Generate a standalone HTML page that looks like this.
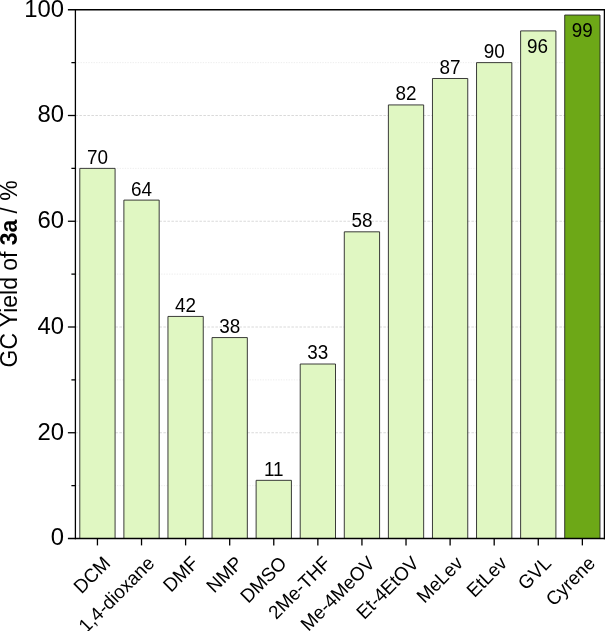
<!DOCTYPE html>
<html><head><meta charset="utf-8"><title>GC Yield chart</title>
<style>
html,body{margin:0;padding:0;background:#fff;}
body{width:605px;height:631px;overflow:hidden;}
svg{display:block;font-family:"Liberation Sans",Arial,sans-serif;}
.tl{font-size:23.85px;fill:#000;}
.vl{font-size:18.9px;fill:#000;}
.xl{font-size:18.67px;fill:#000;}
</style></head><body>
<svg width="605" height="631" viewBox="0 0 605 631">
<rect width="605" height="631" fill="#fff"/>

<line x1="75.4" x2="604.4" y1="485.62" y2="485.62" stroke="#eaeaea" stroke-width="0.85" stroke-dasharray="1.3 1.3"/>
<line x1="75.4" x2="604.4" y1="432.75" y2="432.75" stroke="#d2d2d2" stroke-width="0.85" stroke-dasharray="2.5 1.5"/>
<line x1="75.4" x2="604.4" y1="379.88" y2="379.88" stroke="#eaeaea" stroke-width="0.85" stroke-dasharray="1.3 1.3"/>
<line x1="75.4" x2="604.4" y1="327.00" y2="327.00" stroke="#d2d2d2" stroke-width="0.85" stroke-dasharray="2.5 1.5"/>
<line x1="75.4" x2="604.4" y1="274.12" y2="274.12" stroke="#eaeaea" stroke-width="0.85" stroke-dasharray="1.3 1.3"/>
<line x1="75.4" x2="604.4" y1="221.25" y2="221.25" stroke="#d2d2d2" stroke-width="0.85" stroke-dasharray="2.5 1.5"/>
<line x1="75.4" x2="604.4" y1="168.38" y2="168.38" stroke="#eaeaea" stroke-width="0.85" stroke-dasharray="1.3 1.3"/>
<line x1="75.4" x2="604.4" y1="115.50" y2="115.50" stroke="#d2d2d2" stroke-width="0.85" stroke-dasharray="2.5 1.5"/>
<line x1="75.4" x2="604.4" y1="62.62" y2="62.62" stroke="#eaeaea" stroke-width="0.85" stroke-dasharray="1.3 1.3"/>
<path d="M79.79 538.5V168.38H115.09V538.5" fill="#e0f7c2" stroke="#262626" stroke-width="0.9"/>
<text class="vl" transform="translate(97.44,163.82) scale(1,1.03)" text-anchor="middle">70</text>
<path d="M123.88 538.5V200.10H159.18V538.5" fill="#e0f7c2" stroke="#262626" stroke-width="0.9"/>
<text class="vl" transform="translate(141.53,195.55) scale(1,1.03)" text-anchor="middle">64</text>
<path d="M167.96 538.5V316.43H203.26V538.5" fill="#e0f7c2" stroke="#262626" stroke-width="0.9"/>
<text class="vl" transform="translate(185.61,311.88) scale(1,1.03)" text-anchor="middle">42</text>
<path d="M212.04 538.5V337.57H247.34V538.5" fill="#e0f7c2" stroke="#262626" stroke-width="0.9"/>
<text class="vl" transform="translate(229.69,333.02) scale(1,1.03)" text-anchor="middle">38</text>
<path d="M256.12 538.5V480.34H291.42V538.5" fill="#e0f7c2" stroke="#262626" stroke-width="0.9"/>
<text class="vl" transform="translate(273.77,475.79) scale(1,1.03)" text-anchor="middle">11</text>
<path d="M300.21 538.5V364.01H335.51V538.5" fill="#e0f7c2" stroke="#262626" stroke-width="0.9"/>
<text class="vl" transform="translate(317.86,359.46) scale(1,1.03)" text-anchor="middle">33</text>
<path d="M344.29 538.5V231.82H379.59V538.5" fill="#e0f7c2" stroke="#262626" stroke-width="0.9"/>
<text class="vl" transform="translate(361.94,227.27) scale(1,1.03)" text-anchor="middle">58</text>
<path d="M388.38 538.5V104.93H423.67V538.5" fill="#e0f7c2" stroke="#262626" stroke-width="0.9"/>
<text class="vl" transform="translate(406.02,100.38) scale(1,1.03)" text-anchor="middle">82</text>
<path d="M432.46 538.5V78.49H467.76V538.5" fill="#e0f7c2" stroke="#262626" stroke-width="0.9"/>
<text class="vl" transform="translate(450.11,73.94) scale(1,1.03)" text-anchor="middle">87</text>
<path d="M476.54 538.5V62.62H511.84V538.5" fill="#e0f7c2" stroke="#262626" stroke-width="0.9"/>
<text class="vl" transform="translate(494.19,58.08) scale(1,1.03)" text-anchor="middle">90</text>
<path d="M520.62 538.5V30.90H555.92V538.5" fill="#e0f7c2" stroke="#262626" stroke-width="0.9"/>
<text class="vl" transform="translate(537.48,53.20) scale(1,1.03)" text-anchor="middle">96</text>
<path d="M564.71 538.5V15.04H600.01V538.5" fill="#6da817" stroke="#262626" stroke-width="0.9"/>
<text class="vl" transform="translate(582.36,36.59) scale(1,1.03)" text-anchor="middle">99</text>
<line x1="75.4" x2="75.4" y1="9.1" y2="539.15" stroke="#000" stroke-width="1.3"/>
<line x1="604.4" x2="604.4" y1="9.1" y2="539.15" stroke="#000" stroke-width="1.3"/>
<line x1="67.9" x2="605.05" y1="9.75" y2="9.75" stroke="#000" stroke-width="1.3"/>
<line x1="67.9" x2="605.05" y1="538.5" y2="538.5" stroke="#000" stroke-width="1.3"/>
<text class="tl" transform="translate(64,545.35) scale(1,1.03)" text-anchor="end">0</text>
<line x1="71.4" x2="75.4" y1="485.62" y2="485.62" stroke="#000" stroke-width="1.3"/>
<line x1="67.9" x2="75.4" y1="432.75" y2="432.75" stroke="#000" stroke-width="1.3"/>
<text class="tl" transform="translate(64,439.60) scale(1,1.03)" text-anchor="end">20</text>
<line x1="71.4" x2="75.4" y1="379.88" y2="379.88" stroke="#000" stroke-width="1.3"/>
<line x1="67.9" x2="75.4" y1="327.00" y2="327.00" stroke="#000" stroke-width="1.3"/>
<text class="tl" transform="translate(64,333.85) scale(1,1.03)" text-anchor="end">40</text>
<line x1="71.4" x2="75.4" y1="274.12" y2="274.12" stroke="#000" stroke-width="1.3"/>
<line x1="67.9" x2="75.4" y1="221.25" y2="221.25" stroke="#000" stroke-width="1.3"/>
<text class="tl" transform="translate(64,228.10) scale(1,1.03)" text-anchor="end">60</text>
<line x1="71.4" x2="75.4" y1="168.38" y2="168.38" stroke="#000" stroke-width="1.3"/>
<line x1="67.9" x2="75.4" y1="115.50" y2="115.50" stroke="#000" stroke-width="1.3"/>
<text class="tl" transform="translate(64,122.35) scale(1,1.03)" text-anchor="end">80</text>
<line x1="71.4" x2="75.4" y1="62.62" y2="62.62" stroke="#000" stroke-width="1.3"/>
<text class="tl" transform="translate(64,16.60) scale(1,1.03)" text-anchor="end">100</text>
<line x1="97.44" x2="97.44" y1="538.5" y2="545.4" stroke="#000" stroke-width="1.3"/>
<text class="xl" transform="translate(111.44,564.50) rotate(-45) scale(1,1.03)" text-anchor="end">DCM</text>
<line x1="141.53" x2="141.53" y1="538.5" y2="545.4" stroke="#000" stroke-width="1.3"/>
<text class="xl" transform="translate(155.53,564.50) rotate(-45) scale(1,1.03)" text-anchor="end">1,4-dioxane</text>
<line x1="185.61" x2="185.61" y1="538.5" y2="545.4" stroke="#000" stroke-width="1.3"/>
<text class="xl" transform="translate(199.61,564.50) rotate(-45) scale(1,1.03)" text-anchor="end">DMF</text>
<line x1="229.69" x2="229.69" y1="538.5" y2="545.4" stroke="#000" stroke-width="1.3"/>
<text class="xl" transform="translate(243.69,564.50) rotate(-45) scale(1,1.03)" text-anchor="end">NMP</text>
<line x1="273.77" x2="273.77" y1="538.5" y2="545.4" stroke="#000" stroke-width="1.3"/>
<text class="xl" transform="translate(287.77,564.50) rotate(-45) scale(1,1.03)" text-anchor="end">DMSO</text>
<line x1="317.86" x2="317.86" y1="538.5" y2="545.4" stroke="#000" stroke-width="1.3"/>
<text class="xl" transform="translate(331.86,564.50) rotate(-45) scale(1,1.03)" text-anchor="end">2Me-THF</text>
<line x1="361.94" x2="361.94" y1="538.5" y2="545.4" stroke="#000" stroke-width="1.3"/>
<text class="xl" transform="translate(375.94,564.50) rotate(-45) scale(1,1.03)" text-anchor="end">Me-4MeOV</text>
<line x1="406.02" x2="406.02" y1="538.5" y2="545.4" stroke="#000" stroke-width="1.3"/>
<text class="xl" transform="translate(420.02,564.50) rotate(-45) scale(1,1.03)" text-anchor="end">Et-4EtOV</text>
<line x1="450.11" x2="450.11" y1="538.5" y2="545.4" stroke="#000" stroke-width="1.3"/>
<text class="xl" transform="translate(464.11,564.50) rotate(-45) scale(1,1.03)" text-anchor="end">MeLev</text>
<line x1="494.19" x2="494.19" y1="538.5" y2="545.4" stroke="#000" stroke-width="1.3"/>
<text class="xl" transform="translate(508.19,564.50) rotate(-45) scale(1,1.03)" text-anchor="end">EtLev</text>
<line x1="538.27" x2="538.27" y1="538.5" y2="545.4" stroke="#000" stroke-width="1.3"/>
<text class="xl" transform="translate(552.27,564.50) rotate(-45) scale(1,1.03)" text-anchor="end">GVL</text>
<line x1="582.36" x2="582.36" y1="538.5" y2="545.4" stroke="#000" stroke-width="1.3"/>
<text class="xl" transform="translate(596.36,564.50) rotate(-45) scale(1,1.03)" text-anchor="end">Cyrene</text>
<text class="tl" transform="translate(16.6,273.9) rotate(-90) scale(1,1.03)" text-anchor="middle" style="font-size:22.9px">GC Yield of <tspan font-weight="bold">3a</tspan> / %</text>
</svg></body></html>
